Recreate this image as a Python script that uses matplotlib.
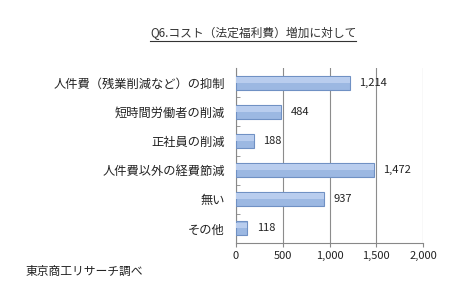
import matplotlib
matplotlib.use("Agg")
import matplotlib.pyplot as plt
from matplotlib.lines import Line2D
from matplotlib.ticker import FuncFormatter, FixedLocator

plt.rcParams['font.family'] = ['Noto Sans CJK JP', 'DejaVu Sans']

title = "Q6.コスト（法定福利費）増加に対して"
source = "東京商工リサーチ調べ"
categories = ["人件費（残業削減など）の抑制", "短時間労働者の削減", "正社員の削減",
              "人件費以外の経費節減", "無い", "その他"]
values = [1214, 484, 188, 1472, 937, 118]
xticks = [0, 500, 1000, 1500, 2000]

W, H = 475, 291
fig = plt.figure(figsize=(W / 100, H / 100), dpi=100)
ax = fig.add_axes([236 / W, 1 - 243 / H, (423 - 236) / W, (243 - 68) / H])

ypos = list(range(len(categories)))
ax.barh(ypos, values, height=0.48, color='#9cb8e2', edgecolor='#7091c4', linewidth=0.8, zorder=3)
# lighter top band to mimic the gradient fill
ax.barh([y - 0.1 for y in ypos], values, height=0.2, color='#b9cdee', linewidth=0, zorder=4)
ax.set_ylim(len(categories) - 0.5, -0.5)
ax.set_xlim(0, 2000)

ax.set_yticks(ypos)
ax.set_yticklabels(categories, fontsize=8.8, color='#222222')
ax.yaxis.set_minor_locator(FixedLocator([i + 0.5 for i in range(len(categories) - 1)]))
ax.tick_params(axis='y', which='major', length=0, pad=8)
ax.tick_params(axis='y', which='minor', length=3, direction='in', color='#888888')

ax.set_xticks(xticks)
ax.xaxis.set_major_formatter(FuncFormatter(lambda v, p: f"{int(v):,}"))
ax.tick_params(axis='x', length=3, color='#888888', labelsize=8, labelcolor='#222222', pad=3)

ax.grid(axis='x', color='#8c8c8c', linewidth=0.8, zorder=0)
for s in ['top', 'right']:
    ax.spines[s].set_visible(False)
ax.spines['left'].set_color('#888888')
ax.spines['bottom'].set_color('#888888')

for y, v in zip(ypos, values):
    ax.annotate(f"{v:,}", (v, y), xytext=(7, 0), textcoords='offset points',
                va='center', ha='left', fontsize=8, color='#222222')

t = fig.text(150 / W, 1 - 33 / H, title, fontsize=8.5, color='#333333', va='center', ha='left')
fig.canvas.draw()
bb = t.get_window_extent().transformed(fig.transFigure.inverted())
fig.add_artist(Line2D([bb.x0, bb.x1], [bb.y0 - 0.005, bb.y0 - 0.005], color='#333333', linewidth=0.8))

fig.text(26 / W, 1 - 271 / H, source, fontsize=8.5, color='#222222', va='center', ha='left')

fig.savefig("out.png", dpi=100)
